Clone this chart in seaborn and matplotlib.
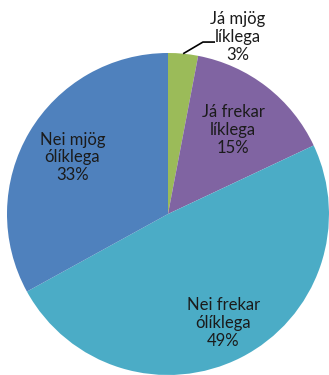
import numpy as np
import matplotlib
matplotlib.use("Agg")
import matplotlib.pyplot as plt
import seaborn as sns

sns.set_theme(style="white")
plt.rcParams["font.family"] = ["Lato", "DejaVu Sans"]

labels = ["Já mjög\nlíklega", "Já frekar\nlíklega", "Nei frekar\nólíklega", "Nei mjög\nólíklega"]
values = [3, 15, 49, 33]
colors = ["#9BBB59", "#8064A2", "#4BACC6", "#4F81BD"]
# radial position of each label as a fraction of the radius
label_r = [None, 0.66, 0.76, 0.69]

W, H = 329, 375
fig = plt.figure(figsize=(W / 100, H / 100), dpi=100)
ax = fig.add_axes([0, 0, 1, 1])

wedges, _ = ax.pie(values, colors=colors, startangle=90, counterclock=False,
                   radius=1.0, wedgeprops=dict(linewidth=0))

# center at pixel (168, 214), radius 161 px
cx, cy, R = 168, 214, 161
ax.set_xlim((0 - cx) / R, (W - cx) / R)
ax.set_ylim((cy - H) / R, (cy - 0) / R)
ax.set_aspect("auto")
ax.axis("off")

txt_kw = dict(ha="center", va="center", fontsize=12, color="#1b1b1b", linespacing=1.15)
for w, lab, v, fr in zip(wedges, labels, values, label_r):
    mid = np.deg2rad((w.theta1 + w.theta2) / 2)
    text = f"{lab}\n{v}%"
    if fr is None:
        # small slice: label outside with a leader line
        x0, y0 = np.cos(mid), np.sin(mid)
        ax.plot([x0, 0.217, 0.292], [y0, 1.068, 1.068], color="black", lw=1.2,
                solid_capstyle="butt")
        ax.text(0.435, 1.099, text, **txt_kw)
    else:
        ax.text(fr * np.cos(mid), fr * np.sin(mid), text, **txt_kw)

fig.savefig("out.png", dpi=100, facecolor="white")
